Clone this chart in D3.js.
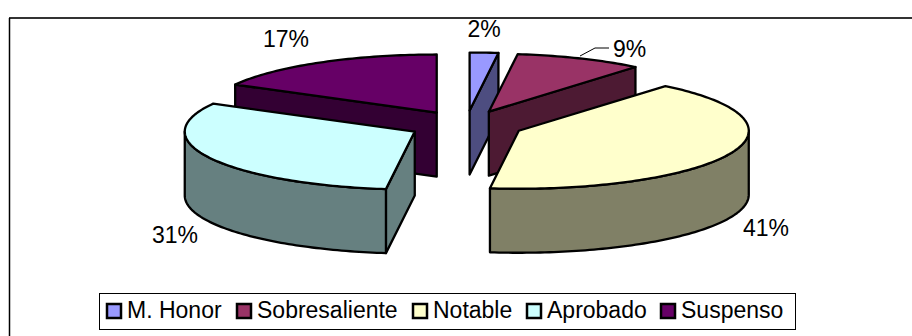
<!DOCTYPE html>
<html>
<head>
<meta charset="utf-8">
<style>
  html, body { margin: 0; padding: 0; background: #fff; }
  svg { display: block; }
  text { font-family: "Liberation Sans", Arial, sans-serif; fill: #000; }
</style>
<script src="https://cdn.jsdelivr.net/npm/d3@7"></script>
</head>
<body>
<svg id="chart" width="912" height="336"></svg>
<script>
const categories = ["M. Honor", "Sobresaliente", "Notable", "Aprobado", "Suspenso"];
const percentages = [2, 9, 41, 31, 17];
const topColors = ["#9999ff", "#993366", "#ffffcc", "#ccffff", "#660066"];
const sideColors = ["#4d4d80", "#4d1a33", "#808066", "#668080", "#330033"];
const labelAnchors = [[484, 37], [629.5, 57], [766, 236], [175, 243], [286, 47]];

const svg = d3.select("#chart");

// Oblique view of the pie: a flattened ellipse extruded downwards.
const centre = { x: 466, y: 125 };
const radius = { x: 230, y: 58 };
const explodeBy = 0.25;
const depth = 64;

const tilt = d3.scaleLinear().domain([-1, 1]);
const sx = tilt.copy().range([-radius.x, radius.x]);
const sy = tilt.copy().range([-radius.y, radius.y]);

const slices = d3.pie().sort(null).value(d => d)(percentages);

const line = d3.line();
function rimPoints(o, a0, a1, drop) {
  const n = Math.max(1, Math.ceil((a1 - a0) / 0.02));
  return d3.range(n + 1).map(i => {
    const a = a0 + (a1 - a0) * i / n;
    return [o.x + sx(Math.sin(a)), o.y - sy(Math.cos(a)) + drop];
  });
}

// Chart frame: top and left rules
svg.append("path").attr("d", line([[9, 18], [912, 18]])).attr("stroke", "#333").attr("stroke-width", 2);
svg.append("path").attr("d", line([[9.5, 18], [9.5, 336]])).attr("stroke", "#000").attr("stroke-width", 1.5);

const plot = svg.append("g").attr("stroke", "#000").attr("stroke-width", 2.3).attr("stroke-linejoin", "round");

// Back-to-front painting order
const order = [4, 0, 1, 2, 3];
order.forEach(i => {
  const s = slices[i];
  const mid = (s.startAngle + s.endAngle) / 2;
  const o = {
    x: centre.x + sx(Math.sin(mid)) * explodeBy,
    y: centre.y - sy(Math.cos(mid)) * explodeBy
  };
  const apex = [o.x, o.y];
  const g = plot.append("g");
  const wall = pts => g.append("path").attr("d", line(pts) + "Z").attr("fill", sideColors[i]);
  const radialWall = a => {
    const p = rimPoints(o, a, a, 0)[0];
    wall([apex, p, [p[0], p[1] + depth], [apex[0], apex[1] + depth]]);
  };

  // A radial cut is visible only when its outward side turns towards the viewer
  if (Math.sin(s.startAngle) < -1e-6) radialWall(s.startAngle);
  if (Math.sin(s.endAngle) > 1e-6) radialWall(s.endAngle);

  // Outer wall: only the front half of the rim faces the viewer
  const a0 = Math.max(s.startAngle, Math.PI / 2);
  const a1 = Math.min(s.endAngle, 3 * Math.PI / 2);
  if (a1 > a0) {
    const upper = rimPoints(o, a0, a1, 0);
    const lower = rimPoints(o, a0, a1, depth).reverse();
    wall(upper.concat(lower));
  }

  // Top face
  g.append("path")
    .attr("d", line([apex].concat(rimPoints(o, s.startAngle, s.endAngle, 0))) + "Z")
    .attr("fill", topColors[i]);
});

// Percentage labels
svg.append("g").selectAll("text").data(percentages).join("text")
  .attr("x", (d, i) => labelAnchors[i][0])
  .attr("y", (d, i) => labelAnchors[i][1])
  .attr("text-anchor", "middle")
  .attr("font-size", 23)
  .text(d => d + "%");

// Leader line for the small slice on the right
svg.append("path").attr("d", line([[580, 56], [595, 48], [609, 48]]))
  .attr("fill", "none").attr("stroke", "#000").attr("stroke-width", 1);

// Legend
const legend = svg.append("g");
legend.append("rect").attr("x", 99.5).attr("y", 293.5).attr("width", 696).attr("height", 36)
  .attr("fill", "#fff").attr("stroke", "#000");
const legendX = d3.scaleOrdinal().domain(categories).range([107, 237, 413, 527, 661]);
const item = legend.selectAll("g").data(categories).join("g")
  .attr("transform", d => `translate(${legendX(d)},0)`);
item.append("rect").attr("y", 304).attr("width", 14).attr("height", 14)
  .attr("fill", (d, i) => topColors[i]).attr("stroke", "#000").attr("stroke-width", 2.5);
item.append("text").attr("x", 20).attr("y", 318).attr("font-size", 23).text(d => d);
</script>
</body>
</html>
